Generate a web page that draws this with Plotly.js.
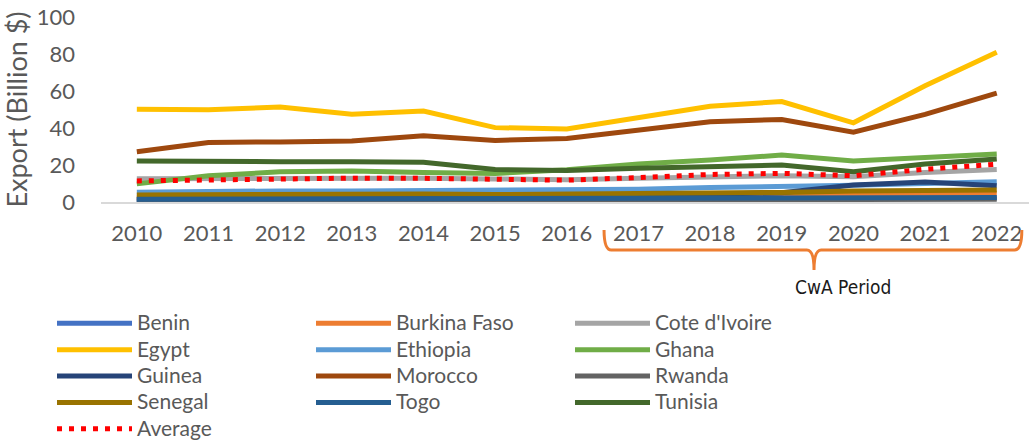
<!DOCTYPE html>
<html>
<head>
<meta charset="utf-8">
<script src="https://cdn.plot.ly/plotly-3.0.1.min.js"></script>
<style>html,body{margin:0;padding:0;background:#fff;}#chart{width:1029px;height:440px;}</style>
</head>
<body>
<div id="chart"></div>
<script>
const years = ['2010','2011','2012','2013','2014','2015','2016','2017','2018','2019','2020','2021','2022'];

const benin       = [1.2, 1.3, 1.4, 1.4, 1.4, 1.3, 1.4, 1.5, 1.6, 1.7, 1.7, 2.0, 2.1];
const burkinaFaso = [2.5, 2.8, 3.2, 3.0, 3.0, 2.8, 3.2, 3.5, 3.8, 3.8, 4.5, 5.0, 4.7];
const coteIvoire  = [12.6, 12.8, 13.0, 13.0, 12.9, 12.5, 12.0, 12.8, 13.7, 14.2, 13.6, 16.0, 17.6];
const egypt       = [50.1, 49.8, 51.3, 47.5, 49.2, 40.2, 39.5, 45.5, 51.8, 54.3, 42.8, 62.8, 80.9];
const ethiopia    = [5.3, 5.8, 6.0, 6.0, 6.2, 6.0, 6.4, 6.9, 7.8, 8.3, 9.0, 10.0, 11.0];
const ghana       = [9.8, 14.2, 16.3, 16.8, 16.0, 15.4, 17.4, 20.5, 22.7, 25.4, 22.2, 24.1, 26.0];
const guinea      = [1.5, 1.7, 1.8, 1.7, 1.8, 2.0, 3.0, 4.0, 4.2, 5.0, 9.2, 10.8, 8.8];
const morocco     = [27.2, 32.2, 32.5, 33.0, 35.8, 33.3, 34.3, 39.0, 43.4, 44.6, 37.7, 47.4, 58.8];
const rwanda      = [0.6, 0.7, 0.8, 0.8, 0.8, 0.8, 0.9, 1.0, 1.1, 1.2, 1.1, 1.4, 1.5];
const senegal     = [3.8, 4.0, 4.2, 4.2, 4.3, 4.0, 4.2, 4.5, 5.0, 5.2, 5.9, 6.0, 6.5];
const togo        = [1.5, 1.6, 1.7, 1.7, 1.7, 1.7, 1.7, 1.8, 1.9, 2.0, 2.0, 2.3, 2.5];
const tunisia     = [22.2, 22.3, 21.8, 21.8, 21.5, 17.6, 17.0, 18.2, 19.1, 20.0, 16.4, 20.5, 23.2];
const average     = [11.4, 12.0, 12.9, 12.9, 12.8, 12.2, 11.8, 13.2, 14.9, 15.5, 14.2, 17.7, 20.4];

const seriesNames  = ['Benin','Burkina Faso',"Cote d'Ivoire",'Egypt','Ethiopia','Ghana','Guinea','Morocco','Rwanda','Senegal','Togo','Tunisia'];
const seriesValues = [benin, burkinaFaso, coteIvoire, egypt, ethiopia, ghana, guinea, morocco, rwanda, senegal, togo, tunisia];
const seriesColors = ['#4472C4','#ED7D31','#A5A5A5','#FFC000','#5B9BD5','#70AD47','#264478','#9E480E','#636363','#997300','#255E91','#43682B'];

const xIdx = years.map((_, i) => i);
const legendLabel = s => '<span style="font-size:21px">' + s + '</span>';

const traces = seriesNames.map((name, k) => ({
  type: 'scatter', mode: 'lines', name: legendLabel(name),
  x: xIdx, y: seriesValues[k],
  line: {color: seriesColors[k], width: 5},
  hoverinfo: 'skip'
}));
traces.push({
  type: 'scatter', mode: 'lines', name: legendLabel('Average'),
  x: xIdx, y: average,
  line: {color: '#FF0000', width: 5, dash: '5px,7px'},
  hoverinfo: 'skip'
});

const txt = '#595959';
const font = 'Lato, "Open Sans", sans-serif';

// bracket geometry (x in category units, y in paper units)
const bL = 6.52, bR = 12.35, bC = 9.45, yTop = -0.151, yMid = -0.259, yBot = -0.368, r = 0.1;
const bracket = `M ${bL},${yTop} Q ${bL},${yMid} ${bL + r},${yMid} L ${bC - r},${yMid} Q ${bC},${yMid} ${bC},${yBot} Q ${bC},${yMid} ${bC + r},${yMid} L ${bR - r},${yMid} Q ${bR},${yMid} ${bR},${yTop}`;

const layout = {
  width: 1029, height: 440,
  margin: {l: 101, r: 0, t: 17, b: 238, autoexpand: false},
  paper_bgcolor: '#fff', plot_bgcolor: '#fff',
  font: {family: font, color: txt, size: 20},
  showlegend: true,
  legend: {
    orientation: 'h', x: -0.0528, xanchor: 'left', y: -0.557, yanchor: 'top',
    entrywidth: 169, entrywidthmode: 'pixels', itemwidth: 75,
    font: {family: font, size: 18, color: txt}, bgcolor: 'rgba(0,0,0,0)',
    traceorder: 'normal', tracegroupgap: 0
  },
  xaxis: {
    range: [-0.5, 12.45], tickmode: 'array', tickvals: xIdx, ticktext: years,
    showgrid: false, zeroline: false, showline: true, linecolor: '#D9D9D9', linewidth: 1.5,
    ticks: '', ticklabelstandoff: 11, tickfont: {family: font, size: 22, color: txt}, fixedrange: true
  },
  yaxis: {
    range: [0, 100], dtick: 20, tick0: 0, showgrid: false, zeroline: false, showline: false,
    ticks: '', ticklabelstandoff: 25, tickfont: {family: font, size: 22, color: txt},
    title: {text: 'Export (Billion $)', font: {family: font, size: 27, color: txt}, standoff: 6},
    fixedrange: true
  },
  shapes: [{
    type: 'path', xref: 'x', yref: 'paper', path: bracket,
    line: {color: '#ED7D31', width: 3}
  }],
  annotations: [{
    xref: 'x', yref: 'paper', x: 9.85, y: -0.462, text: 'CwA Period', showarrow: false,
    xanchor: 'center', yanchor: 'middle',
    font: {family: '"DejaVu Sans Condensed", "Liberation Sans Narrow", "Liberation Sans", sans-serif', size: 19, color: '#1a1a1a'}
  }]
};

Plotly.newPlot('chart', traces, layout, {displayModeBar: false, staticPlot: true});
</script>
</body>
</html>
